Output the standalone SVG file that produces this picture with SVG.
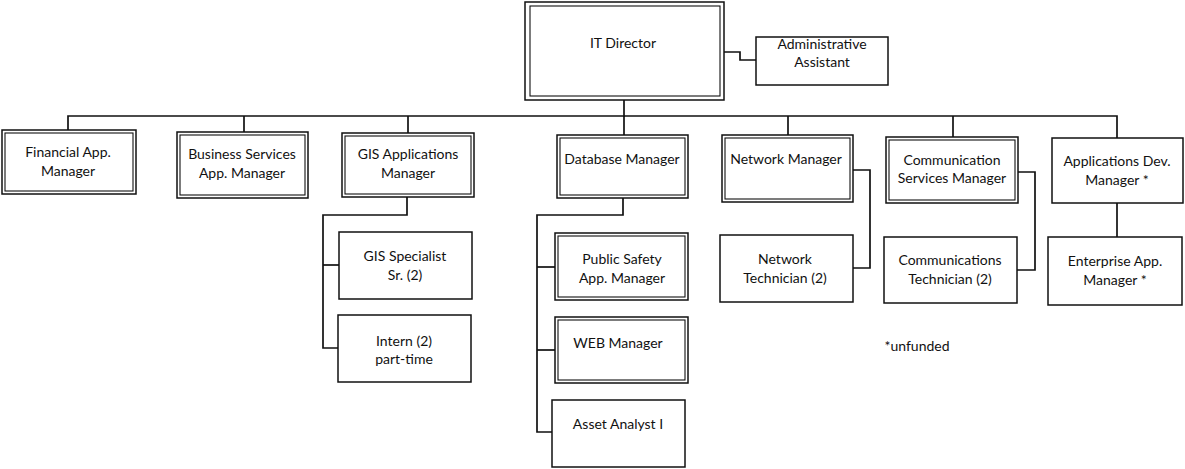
<svg xmlns="http://www.w3.org/2000/svg" width="1185" height="469" viewBox="0 0 1185 469">
<style>
  .bg{fill:#ffffff}
  rect.o{fill:#ffffff;stroke:#111111;stroke-width:1.5}
  rect.i{fill:none;stroke:#111111;stroke-width:1.1}
  text{font-family:Lato,"Liberation Sans",sans-serif;font-size:14px;fill:#111111;text-anchor:middle}
  .conn path{fill:none;stroke:#111111;stroke-width:1.7}
</style>
<rect class="bg" x="0" y="0" width="1185" height="469"/>
<g id="connectors" class="conn">
  <path d="M624,100 V117"/>
  <path d="M68,130 V116 H1117 V138"/>
  <path d="M244,116 V132"/>
  <path d="M408,116 V133"/>
  <path d="M624,116 V135"/>
  <path d="M788,116 V135"/>
  <path d="M953,116 V137"/>
  <path d="M724,52 H740 V60 H756"/>
  <path d="M407,197 V215 H323 V348 H338"/>
  <path d="M323,265 H339"/>
  <path d="M623,198 V215 H537 V432 H552"/>
  <path d="M537,267 H555"/>
  <path d="M537,350 H555"/>
  <path d="M853,170 H870 V268 H853"/>
  <path d="M1018,172 H1035 V270 H1017"/>
  <path d="M1117,203 V237"/>
</g>
<g id="it-director">
  <rect class="o" x="525" y="2" width="199" height="98"/>
  <rect class="i" x="530" y="6" width="190" height="90"/>
  <text x="623" y="48">IT Director</text>
</g>
<g id="admin-assistant">
  <rect class="o" x="756" y="37" width="132" height="48"/>
  <text x="822" y="49">Administrative</text>
  <text x="822" y="67">Assistant</text>
</g>
<g id="financial">
  <rect class="o" x="2" y="130" width="134" height="64"/>
  <rect class="i" x="5" y="133" width="128" height="58"/>
  <text x="68" y="157">Financial App.</text>
  <text x="68" y="176">Manager</text>
</g>
<g id="business">
  <rect class="o" x="177" y="132" width="131" height="66"/>
  <rect class="i" x="180" y="135" width="125" height="60"/>
  <text x="242" y="159">Business Services</text>
  <text x="242" y="178">App. Manager</text>
</g>
<g id="gis-apps">
  <rect class="o" x="342" y="133" width="132" height="64"/>
  <rect class="i" x="345" y="136" width="126" height="58"/>
  <text x="408" y="159">GIS Applications</text>
  <text x="408" y="178">Manager</text>
</g>
<g id="database">
  <rect class="o" x="557" y="135" width="131" height="63"/>
  <rect class="i" x="560" y="138" width="125" height="57"/>
  <text x="622" y="164">Database Manager</text>
</g>
<g id="network">
  <rect class="o" x="722" y="135" width="131" height="67"/>
  <rect class="i" x="725" y="138" width="125" height="61"/>
  <text x="786" y="164">Network Manager</text>
</g>
<g id="communication">
  <rect class="o" x="886" y="137" width="132" height="66"/>
  <rect class="i" x="889" y="140" width="126" height="60"/>
  <text x="952" y="165">Communication</text>
  <text x="952" y="183">Services Manager</text>
</g>
<g id="appdev">
  <rect class="o" x="1052" y="138" width="131" height="65"/>
  <text x="1117" y="166">Applications Dev.</text>
  <text x="1117" y="185">Manager *</text>
</g>
<g id="gis-specialist">
  <rect class="o" x="339" y="232" width="133" height="67"/>
  <text x="405" y="261">GIS Specialist</text>
  <text x="405" y="280">Sr. (2)</text>
</g>
<g id="intern">
  <rect class="o" x="338" y="315" width="133" height="67"/>
  <text x="404" y="346">Intern (2)</text>
  <text x="404" y="364">part-time</text>
</g>
<g id="public-safety">
  <rect class="o" x="555" y="233" width="133" height="67"/>
  <rect class="i" x="558" y="236" width="127" height="61"/>
  <text x="622" y="264">Public Safety</text>
  <text x="622" y="283">App. Manager</text>
</g>
<g id="web-manager">
  <rect class="o" x="555" y="317" width="133" height="66"/>
  <rect class="i" x="558" y="320" width="127" height="60"/>
  <text x="618" y="348">WEB Manager</text>
</g>
<g id="asset-analyst">
  <rect class="o" x="552" y="400" width="133" height="67"/>
  <text x="618" y="429">Asset Analyst I</text>
</g>
<g id="network-tech">
  <rect class="o" x="720" y="235" width="133" height="67"/>
  <text x="785" y="264">Network</text>
  <text x="785" y="283">Technician (2)</text>
</g>
<g id="comm-tech">
  <rect class="o" x="884" y="237" width="133" height="66"/>
  <text x="950" y="265">Communications</text>
  <text x="950" y="284">Technician (2)</text>
</g>
<g id="enterprise">
  <rect class="o" x="1048" y="237" width="134" height="68"/>
  <text x="1115" y="266">Enterprise App.</text>
  <text x="1115" y="285">Manager *</text>
</g>
<text x="917" y="351">*unfunded</text>
</svg>
